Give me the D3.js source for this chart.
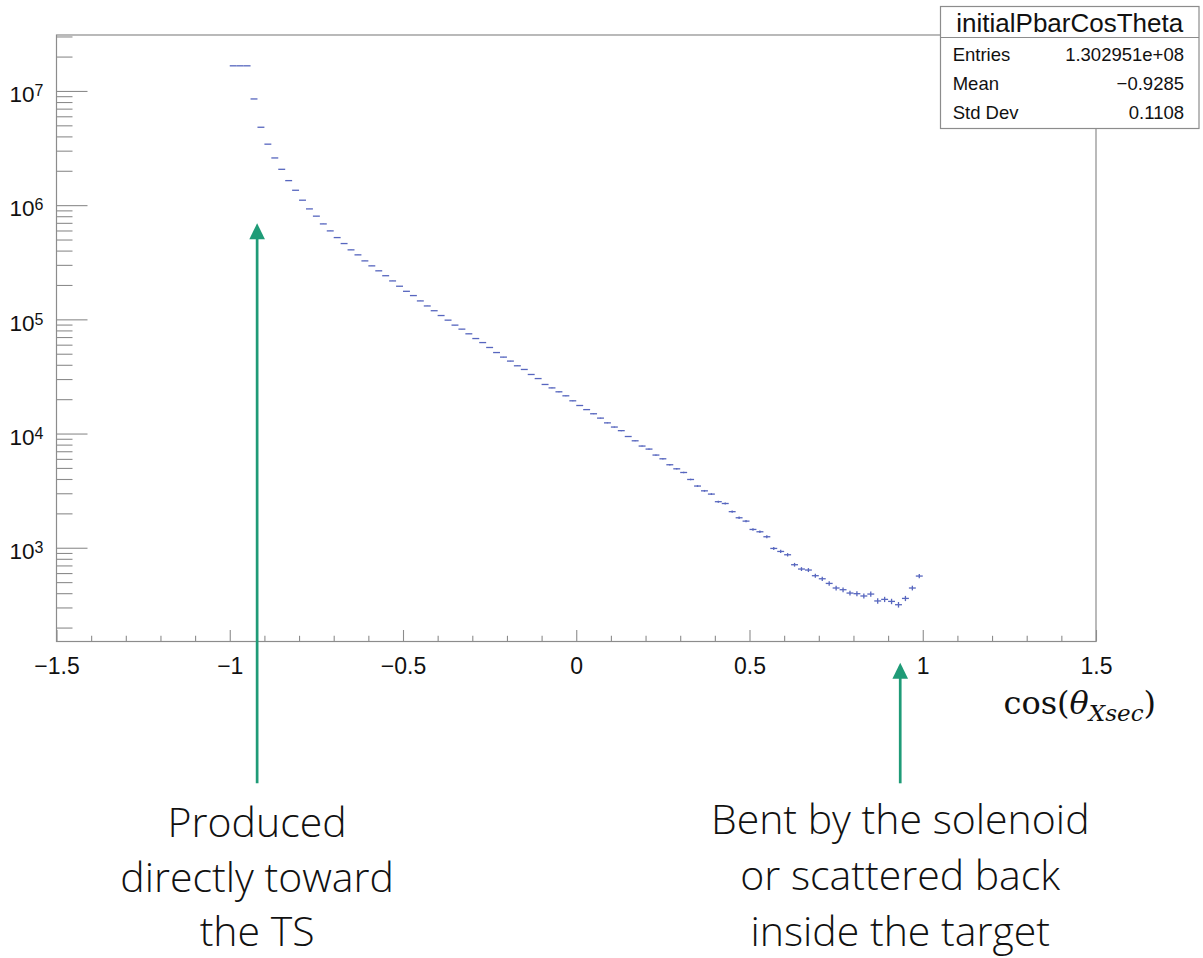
<!DOCTYPE html>
<html>
<head>
<meta charset="utf-8">
<script src="https://cdn.jsdelivr.net/npm/d3@7"></script>
<style>
  html, body { margin: 0; padding: 0; background: #fff; }
  svg { display: block; }
</style>
</head>
<body>
<script>
// Histogram of cos(theta) for initial antiprotons: 100 bins on [-1, 1]
const binLow = -1;
const binWidth = 0.02;
const counts = [
  1.66e7, 1.66e7, 1.66e7, 8.51e6, 4.81e6, 3.42e6, 2.59e6, 2.06e6, 1.64e6, 1.35e6,
  1.105e6, 9.27e5, 8.01e5, 6.85e5, 5.95e5, 5.20e5, 4.61e5, 4.06e5, 3.67e5, 3.25e5,
  2.94e5, 2.66e5, 2.41e5, 2.17e5, 1.95e5, 1.76e5, 1.615e5, 1.45e5, 1.31e5, 1.19e5,
  1.08e5, 9.84e4, 8.90e4, 8.21e4, 7.47e4, 6.79e4, 6.26e4, 5.67e4, 5.12e4, 4.67e4,
  4.31e4, 3.92e4, 3.64e4, 3.29e4, 3.03e4, 2.69e4, 2.51e4, 2.32e4, 2.14e4, 1.935e4,
  1.76e4, 1.62e4, 1.49e4, 1.365e4, 1.24e4, 1.14e4, 1.06e4, 9420, 8640, 7770,
  7310, 6480, 6010, 5330, 4910, 4560, 3960, 3470, 3150, 2950,
  2530, 2440, 2070, 1830, 1710, 1446, 1380, 1248, 986, 928,
  868, 710, 651, 638, 569, 535, 487, 444, 429, 401,
  396, 378, 393, 342, 353, 339, 317, 360, 444, 565
];

// Axis ticks and labels
const xMajorTicks = [-1.5, -1, -0.5, 0, 0.5, 1, 1.5];
const xTickLabels = ["\u22121.5", "\u22121", "\u22120.5", "0", "0.5", "1", "1.5"];
const yDecades = [1e3, 1e4, 1e5, 1e6, 1e7];
const yDecadeExponents = ["3", "4", "5", "6", "7"];

// Statistics box
const statsTitle = "initialPbarCosTheta";
const statLabels = ["Entries", "Mean", "Std Dev"];
const statValues = ["1.302951e+08", "\u22120.9285", "0.1108"];

// Annotations
const noteX = [-0.921, 0.935];
const noteLines = [
  ["Produced", "directly toward", "the TS"],
  ["Bent by the solenoid", "or scattered back", "inside the target"]
];

const W = 1203, H = 958;
const frame = { left: 56.5, right: 1096, top: 35, bottom: 641.5 };

const svg = d3.select("body").append("svg")
  .attr("width", W).attr("height", H)
  .attr("viewBox", `0 0 ${W} ${H}`);
svg.append("rect").attr("width", W).attr("height", H).attr("fill", "#fff");

const x = d3.scaleLinear().domain([-1.5, 1.5]).range([frame.left, frame.right]);
const y = d3.scaleLog().domain([151, 3.09e7]).range([frame.bottom, frame.top]);

const axisColor = "#8c8c8c";
const rootFont = "'Liberation Sans', Arial, Helvetica, sans-serif";

// x minor ticks every 0.1
const xMinor = d3.range(-15, 16).map(i => i / 10).filter(v => !xMajorTicks.some(m => Math.abs(m - v) < 1e-9));
// y minor ticks 2..9 x 10^n
const yMinor = [];
for (let e = 2; e <= 7; e++) for (let m = 2; m <= 9; m++) {
  const v = m * Math.pow(10, e);
  if (v >= y.domain()[0] && v <= y.domain()[1]) yMinor.push(v);
}

function styleAxis(g) {
  g.select(".domain").remove();
  g.selectAll(".tick line").attr("stroke", axisColor).attr("stroke-width", 1.1);
}

// x axis
svg.append("g")
  .attr("transform", `translate(0,${frame.bottom})`)
  .call(d3.axisBottom(x).tickValues(xMinor).tickSize(-5.7).tickSizeOuter(0).tickFormat(""))
  .call(styleAxis);
svg.append("g")
  .attr("transform", `translate(0,${frame.bottom})`)
  .call(d3.axisBottom(x).tickValues(xMajorTicks).tickSize(-11.5).tickSizeOuter(0)
    .tickFormat((d, i) => xTickLabels[i]))
  .call(styleAxis)
  .call(g => g.selectAll("text")
    .attr("y", 32.5).attr("dy", null)
    .attr("font-family", rootFont).attr("font-size", 23).attr("fill", "#111"));

// y axis
svg.append("g")
  .attr("transform", `translate(${frame.left},0)`)
  .call(d3.axisLeft(y).tickValues(yMinor).tickSize(-16).tickSizeOuter(0).tickFormat(""))
  .call(styleAxis);
const gy = svg.append("g")
  .attr("transform", `translate(${frame.left},0)`)
  .call(d3.axisLeft(y).tickValues(yDecades).tickSize(-31).tickSizeOuter(0).tickFormat(""))
  .call(styleAxis);
gy.selectAll(".tick").each(function (d, i) {
  const t = d3.select(this).append("text")
    .attr("x", -13).attr("y", 10.7)
    .attr("text-anchor", "end")
    .attr("font-family", rootFont).attr("fill", "#111");
  t.append("tspan").attr("font-size", 22.5).text("10");
  t.append("tspan").attr("font-size", 16).attr("dy", -6).text(yDecadeExponents[i]);
});

// frame
svg.append("rect")
  .attr("x", frame.left).attr("y", frame.top)
  .attr("width", frame.right - frame.left).attr("height", frame.bottom - frame.top)
  .attr("fill", "none").attr("stroke", axisColor).attr("stroke-width", 1.2);

// histogram bins: horizontal bin-width bar plus vertical statistical error
const bins = counts.map((c, i) => ({
  lo: binLow + i * binWidth,
  hi: binLow + (i + 1) * binWidth,
  c
}));
const histColor = "#3a4cb4";
const gh = svg.append("g").attr("stroke", histColor).attr("stroke-width", 1.3).attr("opacity", 0.85);
gh.selectAll("line.hbar").data(bins).join("line").attr("class", "hbar")
  .attr("x1", d => x(d.lo)).attr("x2", d => x(d.hi))
  .attr("y1", d => y(d.c)).attr("y2", d => y(d.c));
gh.selectAll("line.err").data(bins).join("line").attr("class", "err")
  .attr("x1", d => x((d.lo + d.hi) / 2)).attr("x2", d => x((d.lo + d.hi) / 2))
  .attr("y1", d => y(d.c + Math.sqrt(d.c))).attr("y2", d => y(d.c - Math.sqrt(d.c)));

// statistics box
const box = { x: 940.5, y: 6.5, w: 258.5, h: 122 };
svg.append("rect")
  .attr("x", box.x).attr("y", box.y).attr("width", box.w).attr("height", box.h)
  .attr("fill", "#fff").attr("stroke", axisColor).attr("stroke-width", 1.2);
svg.append("line")
  .attr("x1", box.x).attr("x2", box.x + box.w).attr("y1", 37.5).attr("y2", 37.5)
  .attr("stroke", axisColor).attr("stroke-width", 1.2);
svg.append("text")
  .attr("x", box.x + box.w / 2).attr("y", 32.3)
  .attr("text-anchor", "middle")
  .attr("font-family", rootFont).attr("font-size", 26).attr("fill", "#111")
  .text(statsTitle);
statLabels.forEach((lab, i) => {
  const by = 61 + i * 28.8;
  svg.append("text").attr("x", 952.7).attr("y", by)
    .attr("font-family", rootFont).attr("font-size", 18.5).attr("fill", "#111").text(lab);
  svg.append("text").attr("x", 1184).attr("y", by).attr("text-anchor", "end")
    .attr("font-family", rootFont).attr("font-size", 18.5).attr("fill", "#111").text(statValues[i]);
});

// x axis title
const xt = svg.append("text")
  .attr("x", 1156).attr("y", 713.5).attr("text-anchor", "end")
  .attr("font-family", "'DejaVu Serif', 'Liberation Serif', serif")
  .attr("font-size", 32).attr("fill", "#111");
xt.append("tspan").text("cos(");
xt.append("tspan").attr("font-style", "italic").text("\u03b8");
xt.append("tspan").attr("font-style", "italic").attr("font-size", 23).attr("dy", 7).text("Xsec");
xt.append("tspan").attr("dy", -7).text(")");

// annotation arrows and captions
const arrowColor = "#1f9b77";
const arrowTips = [223.3, 662.7];
const arrowTail = 783.3;
noteX.forEach((nx, i) => {
  const ax = x(nx);
  const tip = arrowTips[i];
  svg.append("line")
    .attr("x1", ax).attr("x2", ax).attr("y1", arrowTail).attr("y2", tip + 12)
    .attr("stroke", arrowColor).attr("stroke-width", 2.7);
  svg.append("path")
    .attr("d", `M${ax},${tip} L${ax - 7.8},${tip + 16} L${ax + 7.8},${tip + 16} Z`)
    .attr("fill", arrowColor);
  const baseY = i === 0 ? 837 : 834;
  const step = i === 0 ? 54.5 : 56;
  noteLines[i].forEach((line, j) => {
    svg.append("text")
      .attr("x", ax).attr("y", baseY + j * step)
      .attr("text-anchor", "middle")
      .attr("font-family", "'Open Sans', 'Noto Sans', sans-serif")
      .attr("font-weight", 300)
      .attr("font-size", 41).attr("fill", "#111")
      .text(line);
  });
});
</script>
</body>
</html>
